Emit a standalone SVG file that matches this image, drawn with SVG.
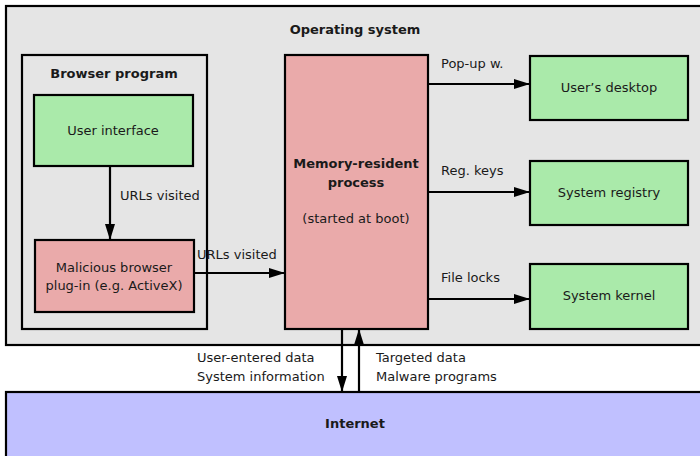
<svg xmlns="http://www.w3.org/2000/svg" width="700" height="456" viewBox="0 0 700 456">
<style>
.box{stroke:#000;stroke-width:2.2}
.gray{fill:#e5e5e5}
.green{fill:#aaeaaa}
.red{fill:#eaaaaa}
.blue{fill:#c0c0ff}
text{font-family:"DejaVu Sans",Verdana,sans-serif;font-size:13px;fill:#1a1a1a}
.b{font-weight:bold}
.c{text-anchor:middle}
.conn{stroke:#000;stroke-width:2.2;fill:none;marker-end:url(#ah)}
</style>
<defs>
<marker id="ah" viewBox="0 0 16 10" refX="16" refY="5" markerWidth="16" markerHeight="10" markerUnits="userSpaceOnUse" orient="auto">
<path d="M0,0 L16,5 L0,10 Z" fill="#000"/>
</marker>
</defs>
<rect width="700" height="456" fill="#fff"/>
<g id="os">
<rect class="box gray" x="6" y="6" width="704" height="339"/>
<text class="b c" x="355" y="34">Operating system</text>
</g>
<g id="internet">
<rect class="box blue" x="6" y="392" width="704" height="70"/>
<text class="b c" x="355" y="428">Internet</text>
</g>
<g id="browser">
<rect class="box gray" x="22" y="55" width="185" height="274"/>
<text class="b c" x="114" y="78">Browser program</text>
</g>
<g id="ui">
<rect class="box green" x="34" y="95" width="159" height="71"/>
<text class="c" x="113" y="135">User interface</text>
</g>
<g id="plugin">
<rect class="box red" x="35" y="240" width="159" height="72"/>
<text class="c" x="114" y="272">Malicious browser</text>
<text class="c" x="114" y="290">plug-in (e.g. ActiveX)</text>
</g>
<g id="process">
<rect class="box red" x="285" y="55" width="143" height="274"/>
<text class="b c" x="356" y="168">Memory-resident</text>
<text class="b c" x="356" y="187">process</text>
<text class="c" x="356" y="223">(started at boot)</text>
</g>
<g id="desktop">
<rect class="box green" x="530" y="56" width="158" height="64"/>
<text class="c" x="609" y="92">User’s desktop</text>
</g>
<g id="registry">
<rect class="box green" x="530" y="161" width="158" height="64"/>
<text class="c" x="609" y="197">System registry</text>
</g>
<g id="kernel">
<rect class="box green" x="530" y="264" width="158" height="65"/>
<text class="c" x="609" y="300">System kernel</text>
</g>
<g id="connectors">
<line class="conn" x1="110" y1="166" x2="110" y2="240"/>
<text x="120" y="200">URLs visited</text>
<line class="conn" x1="194" y1="273" x2="285" y2="273"/>
<text x="197" y="259">URLs visited</text>
<line class="conn" x1="428" y1="84" x2="530" y2="84"/>
<text x="441" y="68">Pop-up w.</text>
<line class="conn" x1="428" y1="192" x2="530" y2="192"/>
<text x="441" y="175">Reg. keys</text>
<line class="conn" x1="428" y1="299" x2="530" y2="299"/>
<text x="441" y="282">File locks</text>
<line class="conn" x1="342" y1="329" x2="342" y2="392"/>
<text x="197" y="362">User-entered data</text>
<text x="197" y="381">System information</text>
<line class="conn" x1="359" y1="392" x2="359" y2="329"/>
<text x="376" y="362">Targeted data</text>
<text x="376" y="381">Malware programs</text>
</g>
</svg>
